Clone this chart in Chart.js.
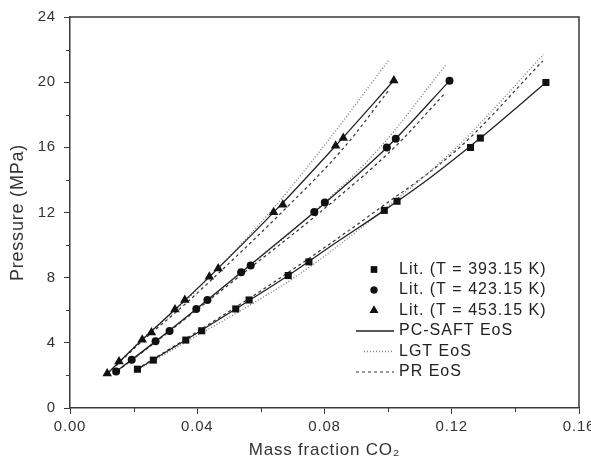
<!DOCTYPE html>
<html><head><meta charset="utf-8">
<script src="https://cdn.jsdelivr.net/npm/chart.js@4.4.1/dist/chart.umd.min.js"></script>
<style>html,body{margin:0;padding:0;background:#fff}#wrap{width:591px;height:468px}</style>
</head><body><div id="wrap"><canvas id="c" width="591" height="468"></canvas></div>
<script>
// ---- data ----
const xTicksMajor = [0, 0.04, 0.08, 0.12, 0.16];
const xTicksMinor = [0.02, 0.06, 0.10, 0.14];
const yTicksMajor = [0, 4, 8, 12, 16, 20, 24];
const yTicksMinor = [2, 6, 10, 14, 18, 22];

const lit393X = [0.0212,0.0262,0.0364,0.0414,0.0521,0.0563,0.0686,0.0751,0.0988,0.1028,0.1259,0.1290,0.1496];
const lit393Y = [2.38,2.94,4.17,4.74,6.08,6.63,8.13,8.97,12.13,12.69,15.99,16.57,19.98];
const lit423X = [0.0145,0.0194,0.0269,0.0313,0.0397,0.0432,0.0538,0.0568,0.0768,0.0801,0.0996,0.1024,0.1193];
const lit423Y = [2.24,2.96,4.09,4.72,6.08,6.63,8.33,8.75,12.03,12.61,15.99,16.53,20.08];
const lit453X = [0.0117,0.0154,0.0227,0.0256,0.0330,0.0361,0.0438,0.0466,0.0640,0.0669,0.0835,0.0859,0.1018];
const lit453Y = [2.11,2.85,4.19,4.64,6.04,6.63,8.05,8.56,12.01,12.48,16.10,16.57,20.10];

const saft393X = [0.0212,0.0364,0.0521,0.0686,0.0840,0.0988,0.1130,0.1290,0.1496];
const saft393Y = [2.38,4.17,6.08,8.13,10.2,12.13,14.1,16.57,19.98];
const saft423X = [0.0145,0.0269,0.0397,0.0538,0.0768,0.0996,0.1193];
const saft423Y = [2.24,4.09,6.08,8.33,12.03,15.99,20.08];
const saft453X = [0.0117,0.0227,0.0330,0.0438,0.0640,0.0835,0.1018];
const saft453Y = [2.11,4.19,6.04,8.05,12.01,16.10,20.10];

const pr393X = [0.0210,0.0358,0.0512,0.0672,0.0955,0.1225,0.1486];
const pr393Y = [2.38,4.17,6.08,8.13,12.0,16.0,21.3];
const pr423X = [0.0147,0.0272,0.0402,0.0540,0.0785,0.1020,0.1178];
const pr423Y = [2.24,4.09,6.08,8.2,12.0,16.0,19.3];
const pr453X = [0.0118,0.0232,0.0340,0.0452,0.0665,0.0862,0.1000];
const pr453Y = [2.1,4.2,6.0,8.0,12.0,16.0,19.45];

const lgt393X = [0.0215,0.0375,0.0545,0.0715,0.0975,0.1215,0.1489];
const lgt393Y = [2.38,4.17,6.08,8.13,12.0,16.0,21.7];
const lgt423X = [0.0147,0.0272,0.0400,0.0525,0.0765,0.0975,0.1183];
const lgt423Y = [2.24,4.09,6.08,8.1,12.0,16.0,21.1];
const lgt453X = [0.0120,0.0225,0.0332,0.0437,0.0628,0.0795,0.1004];
const lgt453Y = [2.1,4.2,6.0,8.0,12.0,16.0,21.4];

const legendLabels = ['Lit. (T = 393.15 K)','Lit. (T = 423.15 K)','Lit. (T = 453.15 K)','PC-SAFT EoS','LGT EoS','PR EoS'];

// ---- build ----
const pts = (xs, ys) => xs.map((x, i) => ({x, y: ys[i]}));
const FONT = "'Liberation Sans', Arial, sans-serif";

const litStyle = (xs, ys, style, r) => ({
  data: pts(xs, ys), showLine: false, pointStyle: style, pointRadius: r,
  backgroundColor: '#111', borderColor: '#111', borderWidth: 0, order: 0
});
const saftStyle = {showLine: true, pointRadius: 0, borderColor: '#222', borderWidth: 1.3, borderDash: [], order: 1, cubicInterpolationMode: 'monotone'};
const lgtStyle = {showLine: true, pointRadius: 0, borderColor: '#808080', borderWidth: 1.4, borderDash: [1, 2], order: 2, cubicInterpolationMode: 'monotone'};
const prStyle = {showLine: true, pointRadius: 0, borderColor: '#333', borderWidth: 1.2, borderDash: [3, 3], order: 2, cubicInterpolationMode: 'monotone'};

const datasets = [
  Object.assign({label: legendLabels[0]}, litStyle(lit393X, lit393Y, 'rect', 5)),
  Object.assign({label: legendLabels[1]}, litStyle(lit423X, lit423Y, 'circle', 4)),
  Object.assign({label: legendLabels[2]}, litStyle(lit453X, lit453Y, 'triangle', 5.5)),
  Object.assign({label: legendLabels[3], data: pts(saft393X, saft393Y)}, saftStyle),
  Object.assign({label: legendLabels[3], data: pts(saft423X, saft423Y)}, saftStyle),
  Object.assign({label: legendLabels[3], data: pts(saft453X, saft453Y)}, saftStyle),
  Object.assign({label: legendLabels[4], data: pts(lgt393X, lgt393Y)}, lgtStyle),
  Object.assign({label: legendLabels[4], data: pts(lgt423X, lgt423Y)}, lgtStyle),
  Object.assign({label: legendLabels[4], data: pts(lgt453X, lgt453Y)}, lgtStyle),
  Object.assign({label: legendLabels[5], data: pts(pr393X, pr393Y)}, prStyle),
  Object.assign({label: legendLabels[5], data: pts(pr423X, pr423Y)}, prStyle),
  Object.assign({label: legendLabels[5], data: pts(pr453X, pr453Y)}, prStyle)
];

const AXIS = '#3a3a3a';

const extras = {
  id: 'extras',
  beforeDraw(chart) {
    chart.ctx.letterSpacing = '0.8px';
  },
  afterDraw(chart) {
    const ctx = chart.ctx, a = chart.chartArea;
    const xs = chart.scales.x, ys = chart.scales.y;
    ctx.save();
    ctx.strokeStyle = AXIS;
    ctx.lineWidth = 1;
    // minor ticks
    xTicksMinor.forEach(v => {
      const px = Math.round(xs.getPixelForValue(v)) + 0.5;
      ctx.beginPath(); ctx.moveTo(px, a.bottom); ctx.lineTo(px, a.bottom + 4); ctx.stroke();
    });
    yTicksMinor.forEach(v => {
      const py = Math.round(ys.getPixelForValue(v)) + 0.5;
      ctx.beginPath(); ctx.moveTo(a.left, py); ctx.lineTo(a.left - 4, py); ctx.stroke();
    });
    // top & right frame
    ctx.lineWidth = 1.5;
    ctx.beginPath();
    ctx.moveTo(a.left, a.top); ctx.lineTo(a.right, a.top); ctx.lineTo(a.right, a.bottom);
    ctx.stroke();
    // legend
    const rowY = [269.5, 290, 310.5, 331, 351.5, 372];
    const mx = 374, lx0 = 356, lx1 = 394, tx = 399;
    ctx.font = '16px ' + FONT;
    ctx.letterSpacing = '1px';
    ctx.fillStyle = '#222';
    ctx.textBaseline = 'middle';
    ctx.textAlign = 'left';
    const markerDs = [datasets[0], datasets[1], datasets[2]];
    for (let i = 0; i < 3; i++) {
      const d = markerDs[i];
      Chart.helpers.drawPoint(ctx, {pointStyle: d.pointStyle, radius: d.pointRadius - 0.5, borderWidth: 0, rotation: 0}, mx, rowY[i]);
      ctx.fillStyle = '#111';
      ctx.fill();
      ctx.fillStyle = '#222';
      ctx.fillText(legendLabels[i], tx, rowY[i]);
    }
    const lineDs = [saftStyle, lgtStyle, prStyle];
    for (let i = 0; i < 3; i++) {
      const s = lineDs[i], y = rowY[3 + i];
      ctx.save();
      ctx.strokeStyle = s.borderColor; ctx.lineWidth = s.borderWidth; ctx.setLineDash(s.borderDash);
      ctx.beginPath(); ctx.moveTo(i === 1 ? lx0 + 8 : lx0, y); ctx.lineTo(lx1, y); ctx.stroke();
      ctx.restore();
      ctx.fillText(legendLabels[3 + i], tx, y);
    }
    ctx.restore();
  }
};

new Chart(document.getElementById('c'), {
  type: 'scatter',
  data: {datasets},
  options: {
    responsive: false, animation: false, devicePixelRatio: 1,
    layout: {padding: {top: 17, right: 12, left: 0, bottom: 0}, autoPadding: false},
    plugins: {legend: {display: false}, tooltip: {enabled: false}},
    scales: {
      x: {
        type: 'linear', min: 0, max: 0.16,
        afterBuildTicks: s => { s.ticks = xTicksMajor.map(v => ({value: v})); },
        afterFit: s => { s.height = 60; s.paddingLeft = 0; s.paddingRight = 0; },
        ticks: {callback: v => v.toFixed(2), font: {family: FONT, size: 15}, color: '#333', padding: 4, maxRotation: 0, autoSkip: false},
        grid: {drawOnChartArea: false, tickLength: 6, color: AXIS, lineWidth: 1},
        border: {color: AXIS, width: 1.5},
        title: {display: true, text: 'Mass fraction CO\u2082', font: {family: FONT, size: 17}, color: '#333', padding: {top: 4, bottom: 7}}
      },
      y: {
        type: 'linear', min: 0, max: 24,
        afterBuildTicks: s => { s.ticks = yTicksMajor.map(v => ({value: v})); },
        afterFit: s => { s.width = 70; s.paddingTop = 0; s.paddingBottom = 0; },
        ticks: {font: {family: FONT, size: 15}, color: '#333', padding: 8},
        grid: {drawOnChartArea: false, tickLength: 6, color: AXIS, lineWidth: 1},
        border: {color: AXIS, width: 1.5},
        title: {display: true, text: 'Pressure (MPa)', font: {family: FONT, size: 18}, color: '#333', padding: {top: 7, bottom: 0}}
      }
    }
  },
  plugins: [extras]
});
</script>
</body></html>
